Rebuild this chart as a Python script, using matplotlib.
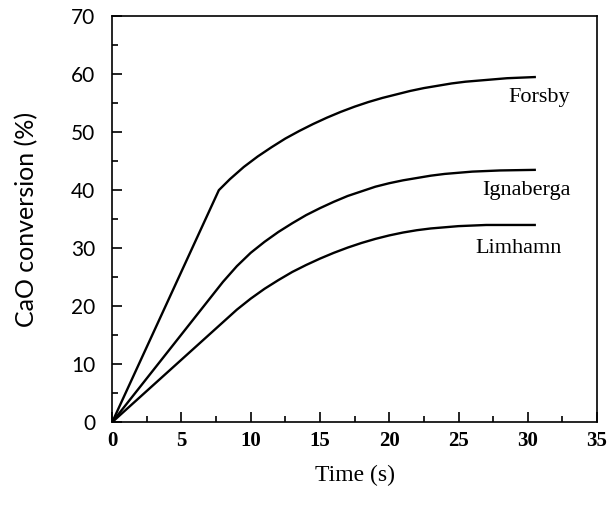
import numpy as np
import matplotlib
matplotlib.use("Agg")
import matplotlib.pyplot as plt
from matplotlib.ticker import MultipleLocator

# values
t_forsby = [0, 7.7, 8.5, 9.5, 10.5, 11.5, 12.5, 13.5, 14.5, 15.5, 16.5, 17.5,
            18.5, 19.5, 20.5, 21.5, 22.5, 23.5, 24.5, 25.5, 26.5, 27.5, 28.5, 30.5]
forsby = [0, 40.0, 41.9, 44.0, 45.8, 47.4, 48.9, 50.2, 51.4, 52.5, 53.5, 54.4,
          55.2, 55.9, 56.5, 57.1, 57.6, 58.0, 58.4, 58.7, 58.9, 59.1, 59.3, 59.5]

t_ign = [0, 8, 9, 10, 11, 12, 13, 14, 15, 16, 17, 18, 19, 20, 21, 22,
         23, 24, 25, 26, 27, 28, 30.5]
ignaberga = [0, 24.2, 26.9, 29.2, 31.1, 32.8, 34.3, 35.7, 36.9, 38.0, 39.0, 39.8,
             40.6, 41.2, 41.7, 42.1, 42.5, 42.8, 43.0, 43.2, 43.3, 43.4, 43.5]

t_lim = [0, 9, 10, 11, 12, 13, 14, 15, 16, 17, 18, 19, 20, 21, 22,
         23, 24, 25, 26, 27, 28, 30.5]
limhamn = [0, 19.4, 21.3, 23.0, 24.5, 25.9, 27.1, 28.2, 29.2, 30.1, 30.9, 31.6,
           32.2, 32.7, 33.1, 33.4, 33.6, 33.8, 33.9, 34.0, 34.0, 34.0]

labels = ["Forsby", "Ignaberga", "Limhamn"]
label_pos = [(30.8, 55.9), (29.9, 40.0), (29.3, 30.0)]

fig = plt.figure(figsize=(6.13, 5.05), dpi=100)
ax = fig.add_axes([0.183, 0.164, 0.791, 0.804])

for t, v in [(t_forsby, forsby), (t_ign, ignaberga), (t_lim, limhamn)]:
    ax.plot(t, v, color="black", lw=1.7, solid_joinstyle="round")

for name, (x, y) in zip(labels, label_pos):
    ax.text(x, y, name, fontsize=16, family="Liberation Serif",
            ha="center", va="center")

ax.set_xlim(0, 35)
ax.set_ylim(0, 70)
ax.xaxis.set_major_locator(MultipleLocator(5))
ax.xaxis.set_minor_locator(MultipleLocator(2.5))
ax.yaxis.set_major_locator(MultipleLocator(10))
ax.yaxis.set_minor_locator(MultipleLocator(5))
ax.tick_params(which="both", direction="in", top=False, right=False, width=1.2)
ax.tick_params(which="major", length=7)
ax.tick_params(which="minor", length=4)
ax.tick_params(axis="x", pad=6)
ax.tick_params(axis="y", pad=12)

for lab in ax.get_xticklabels():
    lab.set_fontfamily("Liberation Serif")
    lab.set_fontsize(15)
    lab.set_fontweight("bold")
for lab in ax.get_yticklabels():
    lab.set_fontfamily("Lato")
    lab.set_fontsize(15)

for s in ax.spines.values():
    s.set_linewidth(1.2)

ax.set_xlabel("Time (s)", fontsize=17, family="Liberation Serif", labelpad=10)
ax.set_ylabel("CaO conversion (%)", fontsize=18, family="Lato", labelpad=24)

fig.savefig("out.png", dpi=100)
